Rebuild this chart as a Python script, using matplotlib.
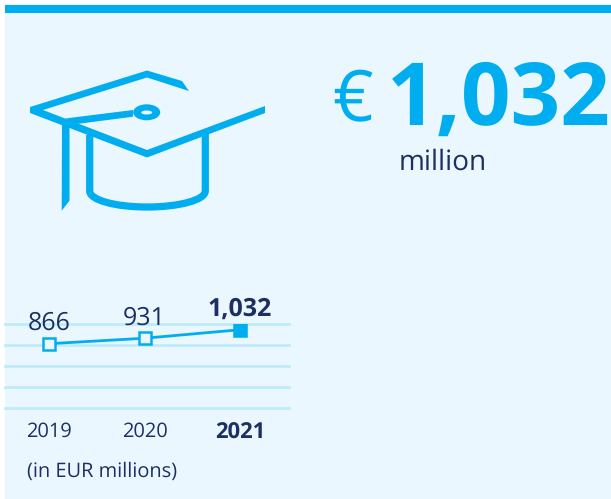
import matplotlib
matplotlib.use('Agg')
import matplotlib.pyplot as plt
from matplotlib.patches import Polygon, Rectangle, Ellipse, PathPatch
from matplotlib.path import Path

plt.rcParams['font.family'] = ['Open Sans', 'DejaVu Sans']
plt.rcParams['text.hinting'] = 'no_hinting'
plt.rcParams['text.hinting_factor'] = 1

years = ['2019', '2020', '2021']
values = [866, 931, 1032]
value_labels = ['866', '931', '1,032']
grid_values = [100, 350, 600, 850, 1100]

W, H = 611, 499
BLUE = '#00AEEF'
PANEL = '#EBF7FE'
GRID = '#BFEBFA'
NAVY = '#1B2F63'

fig = plt.figure(figsize=(W / 100, H / 100), dpi=100, facecolor='white')

# whole figure in pixels, for panel, icon and headline
bg = fig.add_axes([0, 0, 1, 1])
bg.set_xlim(0, W)
bg.set_ylim(H, 0)
bg.axis('off')
bg.add_patch(Rectangle((5, 4), W - 5, H - 4, fc=PANEL, ec='none'))
bg.add_patch(Rectangle((5, 5), W - 5, 7.5, fc=BLUE, ec='none'))

# graduation cap
bg.add_patch(Polygon([(30, 107), (147, 70.5), (182, 81), (189, 91), (147, 77.5), (43, 110),
                      (147, 150), (265, 106), (265, 113), (147, 157.5), (30, 113)],
                     fc=BLUE, ec='none'))
bg.add_patch(Polygon([(65, 118.5), (133, 110), (133, 116.7), (77, 124)], fc=BLUE, ec='none'))
bg.add_patch(Ellipse((146.7, 112.3), 27, 16, fc=BLUE, ec='none'))
bg.add_patch(Ellipse((146.7, 112.5), 11, 4, fc=PANEL, ec='none'))
bg.add_patch(Polygon([(62, 122), (69.5, 126), (69.5, 200.7), (61.7, 210.7)], fc=BLUE, ec='none'))
cap = Path([(89.7, 135), (89.7, 191), (89.7, 200), (115, 207), (147, 207), (179, 207), (205.3, 200),
            (205.3, 191), (205.3, 133)],
           [Path.MOVETO, Path.LINETO, Path.CURVE4, Path.CURVE4, Path.CURVE4, Path.CURVE4, Path.CURVE4,
            Path.CURVE4, Path.LINETO])
bg.add_patch(PathPatch(cap, fc='none', ec=BLUE, lw=5.2, capstyle='butt'))

# headline
bg.text(332, 121, '€', color=BLUE, fontsize=51, ha='left', va='baseline')
bg.text(387, 125, '1,032', color=BLUE, fontsize=62.5, fontweight='bold', ha='left', va='baseline')
bg.text(443, 170, 'million', color=NAVY, fontsize=20, ha='center', va='baseline')

# line chart, placed so 100..1100 falls on the grid rows
left, right = 5, 289
top, bottom = 324, 408.2
ax = fig.add_axes([left / W, 1 - bottom / H, (right - left) / W, (bottom - top) / H])
ax.patch.set_alpha(0)
ax.set_xlim(-44 / 95.5, 2 + 49 / 95.5)
ax.set_ylim(100, 1100)
for s in ax.spines.values():
    s.set_visible(False)
for g in grid_values:
    ax.axhline(g, color=GRID, lw=2, clip_on=False, zorder=1)

xs = list(range(len(values)))
ax.plot(xs, values, color=BLUE, lw=2, zorder=3)
ax.plot(xs[:2], values[:2], ls='none', marker='s', ms=8, mfc=PANEL, mec=BLUE, mew=1.8, zorder=4)
ax.plot(xs[2:], values[2:], ls='none', marker='s', ms=9.5, mfc=BLUE, mec=BLUE, mew=0.4, zorder=4)

for i in xs:
    ax.annotate(value_labels[i], (xs[i], values[i]), xytext=(0, 10),
                textcoords='offset points', ha='center', va='baseline', color=NAVY,
                fontsize=18, fontweight='bold' if i == 2 else 'normal')

ax.set_xticks(xs, years)
ax.set_yticks([])
ax.tick_params(axis='x', length=0, pad=10, labelsize=14.5, labelcolor=NAVY)
ax.get_xticklabels()[2].set_fontweight('bold')
ax.get_xticklabels()[2].set_fontsize(15.5)

bg.text(27, 477, '(in EUR millions)', color=NAVY, fontsize=14.6, ha='left', va='baseline')

fig.savefig('out.png', dpi=100)
